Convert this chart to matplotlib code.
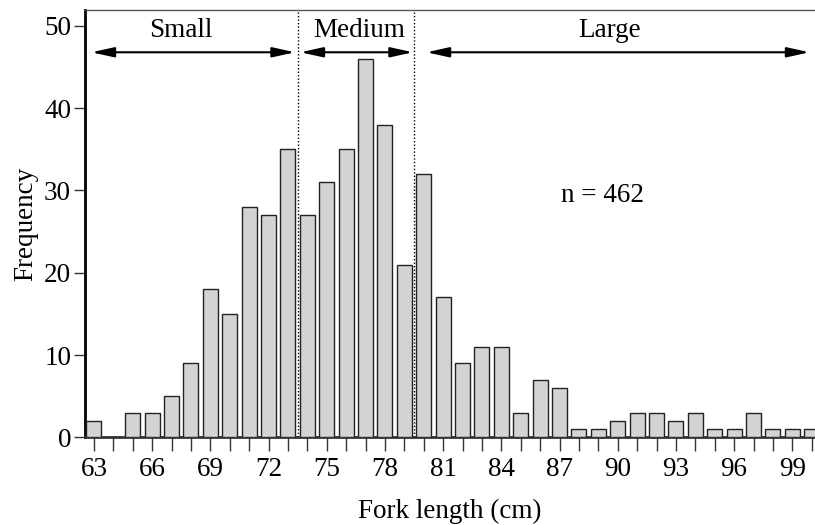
import matplotlib
matplotlib.use("Agg")
import matplotlib.pyplot as plt
import numpy as np

lengths = list(range(63, 101))
freq = [2, 0, 3, 3, 5, 9, 18, 15, 28, 27, 35,
        27, 31, 35, 46, 38, 21,
        32, 17, 9, 11, 11, 3, 7, 6, 1, 1, 2, 3, 3, 2, 3, 1, 1, 3, 1, 1, 1]
tick_labels = list(range(63, 101, 3))
class_names = ["Small", "Medium", "Large"]
class_bounds = [73.5, 79.5]
n_total = 462

plt.rcParams['font.family'] = ['Liberation Serif', 'DejaVu Serif']
FS = 19.5

fig = plt.figure(figsize=(8.15, 5.25), dpi=100)
ax = fig.add_axes([85/815, (525-437.3)/525, 1 - 85/815, (437.3-9.5)/525])

ax.bar(lengths, freq, width=0.78, color='#d3d3d3', edgecolor='#222222', linewidth=1.0, zorder=4)

ax.set_xlim(62.54, 100.17)
ax.set_ylim(0, 52.0)

ax.set_xticks(tick_labels)
ax.set_xticklabels([str(t) for t in tick_labels], fontsize=FS)
ax.set_xticks(lengths, minor=True)
ax.tick_params(axis='x', which='both', direction='out', length=10, width=1, color='#333333', pad=4)
ax.set_yticks(range(0, 51, 10))
ax.tick_params(axis='y', direction='out', length=8, width=1, color='#333333', labelsize=FS, pad=2)

ax.spines['left'].set_linewidth(2)
ax.spines['left'].set_color('black')
ax.spines['top'].set_linewidth(1)
ax.spines['top'].set_color('#555555')
ax.spines['right'].set_visible(False)
ax.spines['bottom'].set_linewidth(2)
ax.spines['bottom'].set_color('#333333')
ax.spines['bottom'].set_zorder(3)

for b in class_bounds:
    ax.axvline(b, color='black', linestyle=(0, (1, 1.5)), linewidth=1, zorder=3)

arrow_y = 46.8
spans = [(62.88, 73.36), (73.65, 79.44), (80.15, 99.88)]
label_x = [67.48, 76.66, 89.6]
for (x1, x2), name, lx in zip(spans, class_names, label_x):
    ax.annotate('', xy=(x2, arrow_y), xytext=(x1, arrow_y),
                arrowprops=dict(arrowstyle='<|-|>,head_length=0.9,head_width=0.2',
                                color='black', lw=1.5, shrinkA=0, shrinkB=0,
                                mutation_scale=15))
    ax.text(lx, 49.4, name, ha='center', va='center', fontsize=FS)

ax.text(89.2, 29.4, f"n = {n_total}", ha='center', va='center', fontsize=FS)

ax.set_xlabel('Fork length (cm)', fontsize=FS, labelpad=12)
ax.set_ylabel('Frequency', fontsize=FS, labelpad=4)

fig.savefig('out.png', dpi=100)
